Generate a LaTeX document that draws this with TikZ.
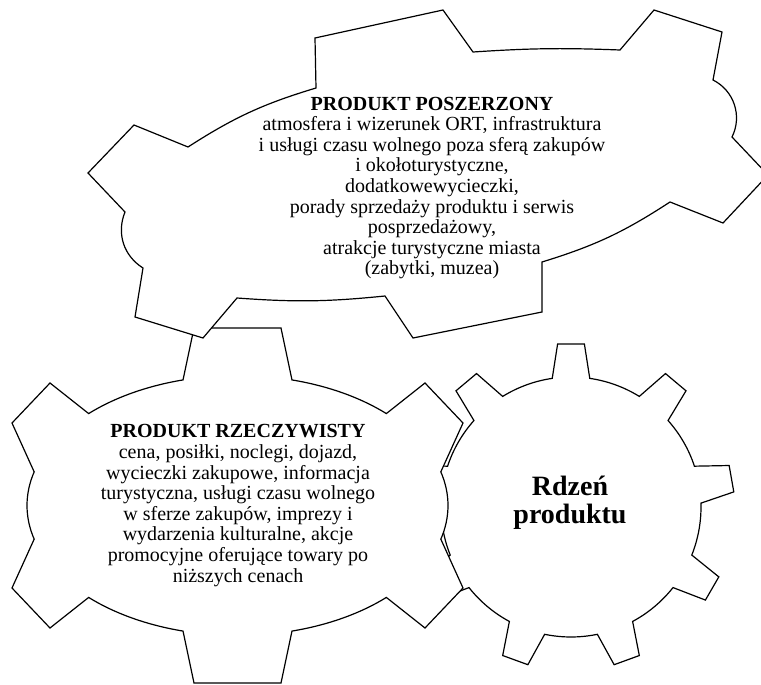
\documentclass[tikz,border=0pt]{standalone}
\usepackage{fontspec}
\setmainfont{Liberation Serif}
\usepackage{tikz}
\tikzset{
    gear/.style={draw=black, line width=1.2pt, fill=white, line join=miter},
    gearText/.style={align=center, inner sep=0pt, font=\fontsize{20}{20.6}\selectfont},
    coreText/.style={align=center, inner sep=0pt, font=\fontsize{28}{28}\selectfont\bfseries}
}

\begin{document}
\begin{tikzpicture}[x=1pt, y=-1pt]
        \useasboundingbox (0,0) rectangle (761,685);

        % Rdzen gear (back)
        \begin{scope}[shift={(571,507)}]
            \draw[gear] (-98.3:130)
                \foreach \a in {-90,-50,...,230} {
                    -- (\a-8.3:130) -- (\a-4.7:163.5) -- (\a+4.7:163.5) -- (\a+8.3:130)
                    arc[start angle=\a+8.3, end angle=\a+31.7, radius=130]
                } -- cycle;
        \end{scope}

        % Rzeczywisty gear
        \begin{scope}[shift={(237.5,505.5)}]
            \draw[gear] (-105:210.5 and 130) -- (-43.5,-177.5) -- (43.5,-177.5) -- (-75:210.5 and 130)
                arc[start angle=-75, end angle=-45, x radius=210.5, y radius=130]
                -- (187.5,-122.5) -- (225.5,-82.5) -- (-15:210.5 and 130)
                arc[start angle=-15, end angle=15, x radius=210.5, y radius=130]
                -- (225.5,82.5) -- (187.5,122.5) -- (45:210.5 and 130)
                arc[start angle=45, end angle=75, x radius=210.5, y radius=130]
                -- (43.5,177.5) -- (-43.5,177.5) -- (105:210.5 and 130)
                arc[start angle=105, end angle=135, x radius=210.5, y radius=130]
                -- (-187.5,122.5) -- (-225.5,82.5) -- (165:210.5 and 130)
                arc[start angle=165, end angle=195, x radius=210.5, y radius=130]
                -- (-225.5,-82.5) -- (-187.5,-122.5) -- (225:210.5 and 130)
                arc[start angle=225, end angle=255, x radius=210.5, y radius=130]
                -- cycle;
        \end{scope}

        % Poszerzony gear (front)
        \draw[gear] (88,173) -- (134,125) -- (188,147) to[bend left=8] (316,88)
            -- (315,38) -- (443,10) -- (473,52) to[bend left=3] (620,50)
            -- (654,10) -- (722,32) -- (713,80) to[bend left=45] (732,137)
            -- (768,175) -- (723,223) -- (670,202) to[bend left=8] (542,262)
            -- (542,312) -- (413,338) -- (385,296) to[bend left=5] (237,298)
            -- (203,338) -- (135,317) -- (143,268) to[bend left=40] (125,212)
            -- cycle;

        % Nodes
        \node[gearText] (poszerzony) at (432,188) {\textbf{PRODUKT POSZERZONY}\\atmosfera i wizerunek ORT, infrastruktura\\i usługi czasu wolnego poza sferą zakupów\\i okołoturystyczne,\\dodatkowewycieczki,\\porady sprzedaży produktu i serwis\\posprzedażowy,\\atrakcje turystyczne miasta\\(zabytki, muzea)};
        \node[gearText] (rzeczywisty) at (238,505.5) {\textbf{PRODUKT RZECZYWISTY}\\cena, posiłki, noclegi, dojazd,\\wycieczki zakupowe, informacja\\turystyczna, usługi czasu wolnego\\w sferze zakupów, imprezy i\\wydarzenia kulturalne, akcje\\promocyjne oferujące towary po\\niższych cenach};
        \node[coreText] (rdzen) at (570,503) {Rdzeń\\produktu};

    \end{tikzpicture}
\end{document}
